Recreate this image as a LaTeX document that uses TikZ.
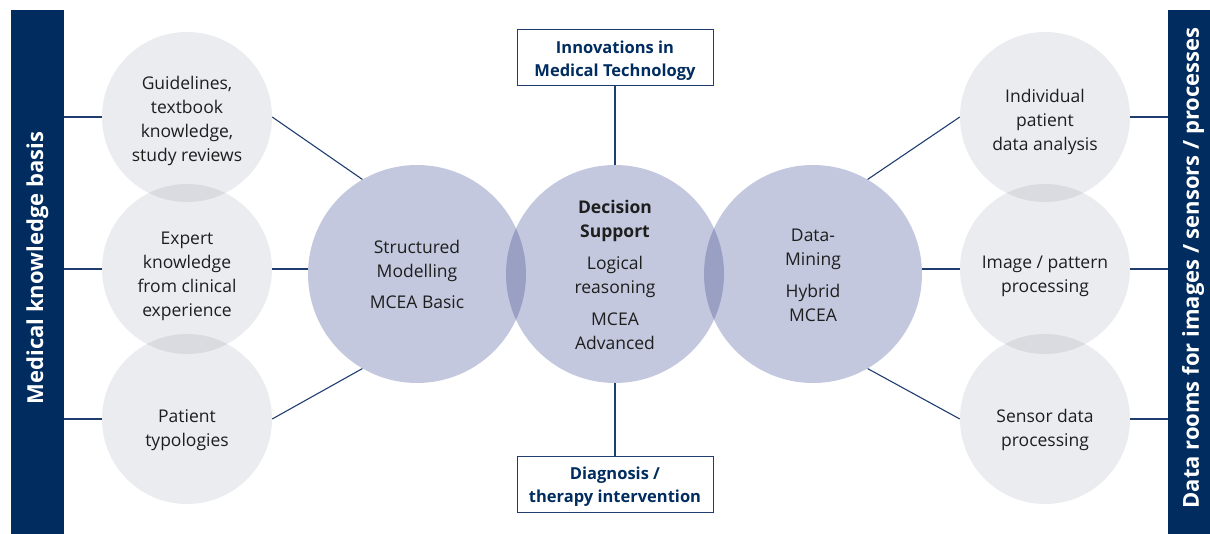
\documentclass[tikz,border=0pt]{standalone}
\usepackage{fontspec}
\setmainfont{Open Sans}
\definecolor{navy}{HTML}{002C5F}
\definecolor{linec}{HTML}{1F3D6E}
\definecolor{midc}{HTML}{C4C8DE}
\definecolor{midov}{HTML}{9A9FC4}
\definecolor{grayc}{HTML}{EBECF0}
\definecolor{grayov}{HTML}{D9DBE0}
\definecolor{txt}{HTML}{1E1E1E}
\begin{document}
\begin{tikzpicture}[x=1pt,y=-1pt,
  bar/.style={fill=navy,draw=none,inner sep=0pt,minimum width=53pt,minimum height=524pt,anchor=north west},
  bartext/.style={text=white,font=\bfseries\fontsize{22}{26}\selectfont,rotate=90,inner sep=0pt},
  graycirc/.style={circle,fill=grayc,draw=none,inner sep=0pt,minimum size=170pt},
  midcirc/.style={circle,fill=midc,draw=none,inner sep=0pt,minimum size=218pt},
  ctext/.style={align=center,text=txt,font=\fontsize{17.5}{24}\selectfont,inner sep=0pt},
  box/.style={draw=linec,line width=1pt,fill=white,minimum width=196pt,minimum height=56pt,inner sep=0pt},
  boxtext/.style={text=navy,align=center,inner sep=0pt,font=\bfseries\fontsize{16.5}{23}\selectfont},
  conn/.style={draw=linec,line width=1.1pt}]
\useasboundingbox (0,0) rectangle (1210,534);
% side bars
\node[bar] (lbar) at (11,10) {};
\node[bar,minimum width=42pt] (rbar) at (1168,10) {};
\node[bartext] (lbart) at (37.5,268) {Medical knowledge basis};
\node[bartext] (rbart) at (1193,268) {Data rooms for images / sensors / processes};
% gray circles
\node[graycirc] (g1) at (187,117) {};
\node[graycirc] (g2) at (187,269) {};
\node[graycirc] (g3) at (187,419) {};
\node[graycirc] (g4) at (1045,117) {};
\node[graycirc] (g5) at (1045,269) {};
\node[graycirc] (g6) at (1045,419) {};
% main circles
\node[midcirc] (m1) at (417,274) {};
\node[midcirc] (m2) at (615,274) {};
\node[midcirc] (m3) at (813,274) {};
% overlaps
\begin{scope}\clip (g1.center) circle (85pt); \fill[grayov] (g2.center) circle (85pt);\end{scope}
\begin{scope}\clip (g2.center) circle (85pt); \fill[grayov] (g3.center) circle (85pt);\end{scope}
\begin{scope}\clip (g4.center) circle (85pt); \fill[grayov] (g5.center) circle (85pt);\end{scope}
\begin{scope}\clip (g5.center) circle (85pt); \fill[grayov] (g6.center) circle (85pt);\end{scope}
\begin{scope}\clip (m1.center) circle (109pt); \fill[midov] (m2.center) circle (109pt);\end{scope}
\begin{scope}\clip (m2.center) circle (109pt); \fill[midov] (m3.center) circle (109pt);\end{scope}
% texts
\node[ctext] (t1) at (187,121) {Guidelines,\\textbook\\knowledge,\\study reviews};
\node[ctext] (t2) at (187,276) {Expert\\knowledge\\from clinical\\experience};
\node[ctext] (t3) at (187,430) {Patient\\typologies};
\node[ctext] (t4) at (1045,122) {Individual\\patient\\data analysis};
\node[ctext] (t5) at (1045,276) {Image / pattern\\processing};
\node[ctext] (t6) at (1045,430) {Sensor data\\processing};
\node[ctext] (tm1) at (417,274) {Structured\\Modelling\\[7pt]MCEA Basic};
\node[ctext] (tm2) at (615,275) {\textbf{Decision}\\\textbf{Support}\\[8pt]Logical\\reasoning\\[8pt]MCEA\\Advanced};
\node[ctext] (tm3) at (813,275) {Data-\\Mining\\[8pt]Hybrid\\MCEA};
% boxes
\node[box] (top) at (615,58) {};
\node[boxtext] (topt) at (615,61) {Innovations in\\Medical Technology};
\node[box] (bot) at (615,484) {};
\node[boxtext] (bott) at (615,487) {Diagnosis /\\therapy intervention};
% connectors
\draw[conn] (top.south) -- (m2.north);
\draw[conn] (m2.south) -- (bot.north);
\draw[conn] (g1.west -| lbar.east) -- (g1.west);
\draw[conn] (g2.west -| lbar.east) -- (g2.west);
\draw[conn] (g3.west -| lbar.east) -- (g3.west);
\draw[conn] (g4.east) -- (g4.east -| rbar.west);
\draw[conn] (g5.east) -- (g5.east -| rbar.west);
\draw[conn] (g6.east) -- (g6.east -| rbar.west);
\draw[conn] (g1.east) -- (m1.120);
\draw[conn] (g2.east) -- (g2.east -| m1.west);
\draw[conn] (g3.east) -- (m1.240);
\draw[conn] (m3.60) -- (g4.west);
\draw[conn] (m3.east |- g5.west) -- (g5.west);
\draw[conn] (m3.-60) -- (g6.west);
\end{tikzpicture}
\end{document}
